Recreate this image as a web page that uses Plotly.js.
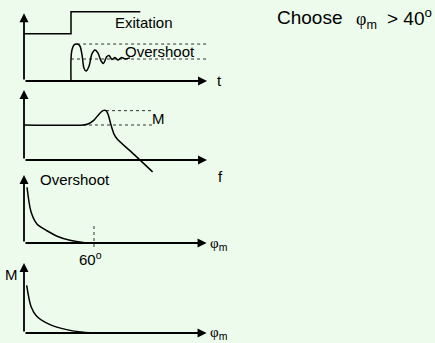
<!DOCTYPE html>
<html>
<head>
<meta charset="utf-8">
<script src="https://cdn.plot.ly/plotly-3.0.1.min.js"></script>
<style>
  html, body { margin: 0; padding: 0; background: rgb(236,251,236); }
  #chart { width: 435px; height: 343px; }
</style>
</head>
<body>
<div id="chart"></div>
<script>
// ---- step excitation and time response (panel 1) ----
const stepT = [0, 2, 2, 4.95];
const stepY = [2.15, 2.15, 3.15, 3.15];
const respT = [2.0, 2.0, 2.04, 2.13, 2.26, 2.38, 2.47, 2.55, 2.64, 2.77, 2.89, 3.02, 3.15, 3.28, 3.38, 3.51, 3.62, 3.74, 3.87, 4.0, 4.15, 4.3, 4.51];
const respY = [0, 1.0, 1.41, 1.64, 1.68, 1.59, 1.18, 0.59, 0.45, 0.68, 1.23, 1.41, 1.27, 0.91, 0.80, 1.09, 1.16, 0.98, 1.07, 0.95, 1.07, 1.0, 1.05];
const finalLevel = 1.0;
const guideEndT = 7.83;

// ---- closed-loop frequency response (panel 2) ----
const freqF = [0, 2.95, 3.2, 3.5, 3.75, 3.95, 4.1, 4.2, 4.35, 4.5, 4.65, 5.5, 6.43];
const freqM = [1.0, 1.0, 1.03, 1.14, 1.31, 1.41, 1.41, 1.31, 1.0, 0.74, 0.61, 0.16, -0.34];
const guideEndF = 6.4;

// ---- overshoot versus phase margin (panel 3) ----
const pmA = [2.6, 6.0, 11.1, 19.7, 28.3, 39.4, 50.6, 59.1];
const overshootA = [0.82, 0.46, 0.28, 0.18, 0.10, 0.04, 0.007, 0];
const pmMark = 60;

// ---- resonance peak versus phase margin (panel 4) ----
const pmB = [2.3, 6.0, 10.9, 22.3, 36.6, 50.8, 59.4];
const peakB = [0.68, 0.38, 0.24, 0.12, 0.048, 0.01, 0];

// ---- text ----
const labelExcitation = 'Exitation';
const labelOvershoot = 'Overshoot';
const labelTime = 't';
const labelFreq = 'f';
const labelPeak = 'M';
const labelPhase = '<span style="font-family:Liberation Serif,serif">φ</span><sub>m</sub>';
const labelPhaseTop = 'φ<sub><span style="font-family:Liberation Sans,Arial,sans-serif">m</span></sub>';
const chooseWord = 'Choose';
const chooseLimit = 40;

// ---- page geometry ----
const W = 435, H = 343;
const BG = 'rgb(236,251,236)';
const INK = '#000';
const FONT = 'Liberation Sans, Arial, sans-serif';
const SERIF = 'Liberation Serif, Times New Roman, serif';

// each panel: pixel origin of its axes, pixels per unit, and visible range
const panels = [
  { x0: 24, xppu: 23.5,   xr: [0, 8.7],    y0: 81,  yppu: 22, yr: [-0.1, 3.3],   tipX: 7.79,  tipY: 3.08 },
  { x0: 24, xppu: 20,     xr: [0, 10.3],   y0: 160, yppu: 35, yr: [-0.6, 2.05],  tipX: 9.15,  tipY: 2.0 },
  { x0: 24, xppu: 70/60,  xr: [-15, 170],  y0: 243, yppu: 68, yr: [-0.35, 1.05], tipX: 156.5, tipY: 1.0 },
  { x0: 24, xppu: 70/60,  xr: [-15, 170],  y0: 333, yppu: 70, yr: [-0.1, 1.05],  tipX: 156.5, tipY: 1.0 }
];

const clamp = v => Math.max(0, Math.min(1, v));
const layout = {
  width: W, height: H,
  margin: { l: 0, r: 0, t: 0, b: 0, pad: 0 },
  paper_bgcolor: BG,
  plot_bgcolor: 'rgba(0,0,0,0)',
  showlegend: false,
  font: { family: FONT, size: 15, color: INK },
  annotations: [],
  shapes: []
};

panels.forEach((p, i) => {
  const n = i === 0 ? '' : String(i + 1);
  layout['xaxis' + n] = {
    domain: [clamp((p.x0 + p.xr[0] * p.xppu) / W), clamp((p.x0 + p.xr[1] * p.xppu) / W)],
    range: p.xr, visible: false, fixedrange: true, anchor: 'y' + n
  };
  layout['yaxis' + n] = {
    domain: [clamp(1 - (p.y0 - p.yr[0] * p.yppu) / H), clamp(1 - (p.y0 - p.yr[1] * p.yppu) / H)],
    range: p.yr, visible: false, fixedrange: true, anchor: 'x' + n
  };
  // arrowed axes
  const arrow = (x, y) => ({
    xref: 'x' + n, yref: 'y' + n, axref: 'x' + n, ayref: 'y' + n,
    x: x, y: y, ax: 0, ay: 0, text: '', showarrow: true,
    arrowhead: 2, arrowsize: 1.0, arrowwidth: 1.8, arrowcolor: INK, standoff: 0
  });
  layout.annotations.push(arrow(p.tipX, 0), arrow(0, p.tipY));
});

function label(n, x, y, text, opts) {
  return Object.assign({
    xref: 'x' + n, yref: 'y' + n, x: x, y: y, text: text, showarrow: false,
    xanchor: 'center', yanchor: 'middle', font: { family: FONT, size: 15, color: INK }
  }, opts || {});
}

const peakIdx = respY.indexOf(Math.max(...respY));
const fPeakIdx = freqM.indexOf(Math.max(...freqM));

layout.annotations.push(
  label('', 5.11, 2.68, labelExcitation),
  label('', 5.79, 1.32, labelOvershoot),
  label('', 8.34, 0.02, labelTime),
  label('2', 6.7, 1.2, labelPeak),
  label('2', 9.8, -0.46, labelFreq),
  label('3', 43.7, 0.94, labelOvershoot),
  label('3', 157.5, -0.02, labelPhase, { xanchor: 'left' }),
  label('3', 57, -0.235, pmMark + '<sup>o</sup>'),
  label('4', -11.1, 0.83, labelPeak),
  label('4', 157.5, 0.0, labelPhase, { xanchor: 'left' }),
  { xref: 'paper', yref: 'paper', x: 275 / W, y: 1 - 17.5 / H, xanchor: 'left', yanchor: 'middle',
    text: chooseWord, showarrow: false, font: { family: FONT, size: 19, color: INK } },
  { xref: 'paper', yref: 'paper', x: 354 / W, y: 1 - 20.5 / H, xanchor: 'left', yanchor: 'middle',
    text: labelPhaseTop, showarrow: false, font: { family: SERIF, size: 18, color: INK } },
  { xref: 'paper', yref: 'paper', x: 385 / W, y: 1 - 17.5 / H, xanchor: 'left', yanchor: 'middle',
    text: '> ' + chooseLimit + '<sup>o</sup>', showarrow: false, font: { family: FONT, size: 19, color: INK } }
);

const solid = { color: INK, width: 1.5 };
const dotted = { color: '#333', width: 1, dash: 'dot' };
const line = (x, y, ax, ln, shape) => ({
  type: 'scatter', mode: 'lines', x: x, y: y,
  xaxis: 'x' + ax, yaxis: 'y' + ax, line: Object.assign({ shape: shape || 'linear', smoothing: 0.8 }, ln),
  hoverinfo: 'skip'
});

const data = [
  // panel 1
  line(stepT, stepY, '', solid),
  line([respT[peakIdx], guideEndT], [respY[peakIdx], respY[peakIdx]], '', dotted),
  line([respT[0], guideEndT], [finalLevel, finalLevel], '', dotted),
  line(respT, respY, '', solid, 'spline'),
  // panel 2
  line([freqF[fPeakIdx + 1], guideEndF], [freqM[fPeakIdx], freqM[fPeakIdx]], '2', dotted),
  line([freqF[1], guideEndF], [freqM[0], freqM[0]], '2', dotted),
  line(freqF, freqM, '2', solid, 'spline'),
  // panel 3
  line([pmMark, pmMark], [0.25, -0.1], '3', dotted),
  line(pmA, overshootA, '3', solid, 'spline'),
  // panel 4
  line(pmB, peakB, '4', solid, 'spline')
];

Plotly.newPlot('chart', data, layout, { staticPlot: true, displayModeBar: false });
</script>
</body>
</html>
